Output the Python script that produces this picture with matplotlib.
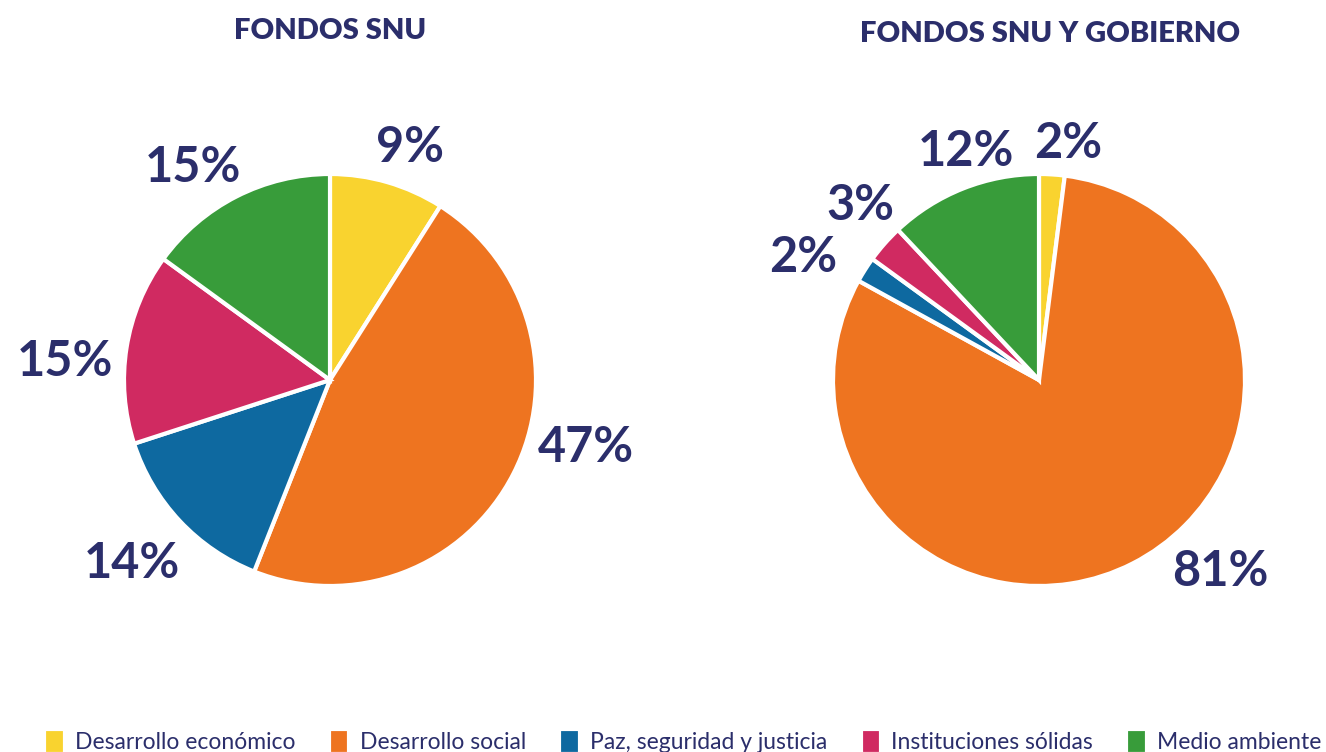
import matplotlib.pyplot as plt

# Data
categorias = ["Desarrollo económico", "Desarrollo social", "Paz, seguridad y justicia",
              "Instituciones sólidas", "Medio ambiente"]
fondos_snu = [9, 47, 14, 15, 15]
fondos_snu_gob = [2, 81, 2, 3, 12]
titulos = ["FONDOS SNU", "FONDOS SNU Y GOBIERNO"]

colores = ["#f9d32f", "#ee7420", "#0e69a0", "#d02a61", "#389c3a"]
navy = "#2b2e6b"

# label positions in pixels (layout only)
pos_snu = [(410, 147), (586, 447), (132, 563), (65, 362), (193, 168)]
pos_gob = [(1068, 143), (1220, 572), (803, 258), (860, 205), (966, 152)]

W, H = 1326, 752
fig = plt.figure(figsize=(W / 100, H / 100), dpi=100)
ax = fig.add_axes([0, 0, 1, 1])

wedges = None
for valores, cx, pos in [(fondos_snu, 330, pos_snu), (fondos_snu_gob, 1039, pos_gob)]:
    wedges, _ = ax.pie(valores, colors=colores, startangle=90, counterclock=False,
                       center=(cx, H - 380), radius=206,
                       wedgeprops=dict(edgecolor="white", linewidth=3))
    for v, (x, y) in zip(valores, pos):
        ax.text(x, H - y, f"{v}%", ha="center", va="center", fontsize=35,
                fontweight="bold", color=navy, family="Lato")

ax.set_xlim(0, W)
ax.set_ylim(0, H)
ax.set_aspect("equal")
ax.axis("off")

ax.text(330, H - 31, titulos[0], ha="center", va="center", fontsize=21,
        fontweight="heavy", color=navy, family="Lato")
ax.text(1050, H - 34, titulos[1], ha="center", va="center", fontsize=21,
        fontweight="heavy", color=navy, family="Lato")

fig.legend(wedges, categorias, loc="lower center", ncol=5, frameon=False,
           bbox_to_anchor=(0.515, -0.03), handlelength=0.9, handleheight=1.3,
           handletextpad=0.45, columnspacing=1.45,
           prop={"family": "Lato", "size": 16.5},
           labelcolor=navy)

fig.savefig("out.png", dpi=100)
